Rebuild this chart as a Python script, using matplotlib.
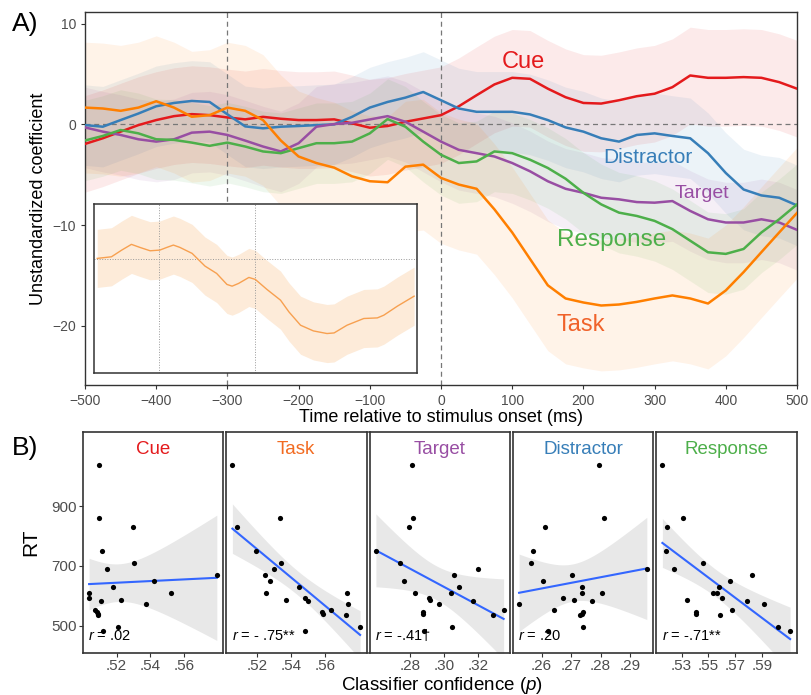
import numpy as np
import matplotlib

matplotlib.use("Agg")
import matplotlib.pyplot as plt

plt.rcParams['font.family'] = ['Liberation Sans', 'DejaVu Sans']
plt.rcParams['mathtext.fontset'] = 'custom'
plt.rcParams['mathtext.rm'] = 'Liberation Sans'
plt.rcParams['mathtext.it'] = 'Liberation Sans:italic'

# ---- panel A: decoding coefficients over time ----
time_ms = list(range(-500, 501, 25))
cue = [-1.94, -1.38, -0.72, -0.07, 0.43, 0.82, 1.02, 0.92, 0.69, 0.5, 0.75, 0.56, 0.43, 0.43, 0.5, 0.1, -0.33,
       -0.16, 0.26, 0.59, 0.92, 1.8, 2.9, 3.97, 4.63, 4.53, 3.55, 2.7, 2.13, 2.07, 2.4, 2.8, 3.05, 3.7, 4.86,
       4.63, 4.63, 4.7, 4.63, 4.2, 3.55]
distractor = [-0.07, -0.23, 0.43, 1.08, 1.8, 2.13, 2.33, 2.23, 1.0, -0.2, -0.39, -0.23, -0.16, -0.07, 0.0, 0.75,
              1.67, 2.23, 2.66, 3.22, 2.4, 1.58, 1.25, 1.25, 1.25, 0.99, 0.43, -0.3, -0.72, -1.38, -1.71, -1.05,
              -0.89, -1.15, -1.38, -2.86, -4.83, -6.47, -7.06, -7.29, -8.05]
target = [-0.3, -0.72, -1.05, -1.48, -1.71, -1.48, -0.82, -0.72, -1.05, -1.61, -2.2, -2.69, -1.87, -0.23, 0.03,
          0.16, 0.49, 0.82, 0.26, -0.72, -1.71, -2.53, -2.86, -3.19, -3.84, -4.66, -5.65, -6.4, -6.8, -7.29,
          -7.45, -7.72, -7.78, -7.62, -8.6, -9.43, -9.75, -9.75, -9.43, -9.75, -10.48]
response = [-1.6, -1.15, -0.56, -0.89, -1.48, -1.54, -1.81, -2.13, -1.81, -2.2, -2.69, -2.86, -2.36, -1.87, -1.87,
            -1.71, -0.89, 0.53, -0.23, -1.71, -3.02, -3.84, -3.68, -2.69, -2.86, -3.51, -4.33, -5.4, -6.8, -7.95,
            -8.77, -9.1, -9.59, -10.41, -11.56, -12.71, -12.87, -12.38, -10.74, -9.43, -7.95]
task = [1.67, 1.58, 1.35, 1.67, 2.3, 1.67, 0.76, 0.92, 1.67, 1.35, 0.43, -1.6, -3.19, -3.84, -4.3, -5.16, -5.65,
        -5.75, -4.2, -4.0, -5.32, -5.98, -6.4, -8.44, -10.74, -13.37, -15.99, -17.3, -17.7, -18.0, -17.9, -17.64,
        -17.3, -17.0, -17.3, -17.8, -16.5, -14.68, -12.7, -10.74, -8.8]

# half width of the confidence ribbon for each series
cue_ci = 4.8
distractor_ci = 4.0
target_ci = 4.0
response_ci = 4.0
task_ci = 6.5

# inset: zoomed task curve
inset_ms = [-495, -473, -457, -442, -429, -413, -398, -387, -377, -367, -348, -328, -310, -294, -286, -276,
            -260, -250, -232, -211, -198, -180, -160, -139, -128, -108, -82, -61, -51, -30, -4]
inset_task = [0.07, 0.23, 0.9, 1.47, 1.17, 0.83, 0.9, 1.17, 1.4, 1.17, 0.57, -0.7, -1.43, -2.53, -2.7, -2.43,
              -1.83, -2.03, -3.03, -4.1, -5.27, -6.6, -7.17, -7.43, -7.37, -6.6, -5.93, -5.87, -5.6, -4.7, -3.7]
inset_ci = 2.9

# ---- panel B: RT against classifier confidence ----
rt = [1038, 859, 831, 750, 709, 689, 669, 650, 630, 610, 608, 592, 586, 584, 573, 552, 547, 541, 536, 495, 481]
cue_conf = [.5097, .5095, .5295, .5117, .5302, .5144, .5792, .5422, .5178, .5521, .5038, .5038, .5224, .5111,
            .5373, .5072, .5082, .5088, .5091, .5209, .5119]
task_conf = [.5056, .5337, .5082, .5196, .5341, .5302, .5249, .5278, .5445, .5729, .5251, .5484, .5371, .5498,
             .5735, .5631, .5582, .5585, .5719, .5804, .5484]
target_conf = [.2810, .2819, .2794, .2598, .2737, .3198, .3057, .2761, .3084, .3039, .2829, .2908, .2914, .3167,
               .2972, .3349, .2875, .2873, .3284, .3045, .2878]
distractor_conf = [.2796, .2812, .2611, .2571, .2563, .2957, .2704, .2605, .2736, .2806, .2738, .2673, .2711,
                   .2772, .2524, .2641, .2739, .2736, .2730, .2739, .2623]
response_conf = [.5157, .5312, .5192, .5187, .5462, .5247, .5825, .5662, .5582, .5562, .5537, .5600, .5342,
                 .5792, .5917, .5675, .5407, .5405, .5587, .6020, .6112]

cue_ticks = [.52, .54, .56]
task_ticks = [.52, .54, .56]
target_ticks = [.28, .30, .32]
distractor_ticks = [.26, .27, .28, .29]
response_ticks = [.53, .55, .57, .59]

r_labels = ["$r$ = .02", "$r$ = - .75**", "$r$ = -.41\u2020", "$r$ = .20", "$r$ = -.71**"]

RED, BLUE, PURPLE, GREEN, ORANGE = "#e41a1c", "#377eb8", "#984ea3", "#4daf4a", "#ff7f00"
EDGE = "#333333"
TICKTXT = "#4d4d4d"


def style_box(ax, lw=1.0):
    for sp in ax.spines.values():
        sp.set_color(EDGE)
        sp.set_linewidth(lw)


def fit_band(x, y, grid):
    n = len(x)
    slope, icpt = np.polyfit(x, y, 1)
    pred = icpt + slope * grid
    resid = y - (icpt + slope * x)
    s = np.sqrt(np.sum(resid ** 2) / (n - 2))
    sxx = np.sum((x - x.mean()) ** 2)
    se = s * np.sqrt(1 / n + (grid - x.mean()) ** 2 / sxx)
    tcrit = 2.093
    return pred, pred - tcrit * se, pred + tcrit * se


fig = plt.figure(figsize=(8.11, 6.95), dpi=100)

# ---------------- panel A ----------------
ax = fig.add_axes([85 / 811, 1 - 385 / 695, 712 / 811, 373.3 / 695])
t = np.array(time_ms)
series = [(cue, cue_ci, RED), (distractor, distractor_ci, BLUE), (target, target_ci, PURPLE),
          (response, response_ci, GREEN), (task, task_ci, ORANGE)]
for vals, ci, col in series:
    v = np.array(vals)
    ax.fill_between(t, v - ci, v + ci, color=col, alpha=0.09, lw=0)
ax.axhline(0, color="#777777", lw=0.9, ls=(0, (4, 3)), zorder=2)
for xv in (-300, 0):
    ax.axvline(xv, color="#777777", lw=0.9, ls=(0, (4, 3)), zorder=2)
for vals, ci, col in series:
    ax.plot(t, vals, color=col, lw=1.8, zorder=3)

ax.text(115, 6.2, "Cue", color=RED, fontsize=17, ha="center", va="center")
ax.text(291, -3.25, "Distractor", color=BLUE, fontsize=15, ha="center", va="center")
ax.text(367, -6.87, "Target", color=PURPLE, fontsize=14, ha="center", va="center")
ax.text(240, -11.5, "Response", color=GREEN, fontsize=17.5, ha="center", va="center")
ax.text(196, -19.9, "Task", color="#f0622a", fontsize=17, ha="center", va="center")

ax.set_xlim(-500, 500)
ax.set_ylim(-25.9, 11.2)
ax.set_xticks(range(-500, 501, 100))
ax.set_yticks([10, 0, -10, -20])
ax.tick_params(length=3, color=EDGE, labelcolor=TICKTXT, labelsize=10)
ax.set_xlabel("Time relative to stimulus onset (ms)", fontsize=13, labelpad=1)
ax.set_ylabel("Unstandardized coefficient", fontsize=13, labelpad=4)
style_box(ax)

# inset
axi = fig.add_axes([94 / 811, 1 - 373.3 / 695, 322.7 / 811, 169.3 / 695])
axi.set_facecolor("white")
im = np.array(inset_ms)
iv = np.array(inset_task)
axi.fill_between(im, iv - inset_ci, iv + inset_ci, color="#fdebd9", lw=0)
axi.axhline(0, color="#999999", lw=0.7, ls=":")
for xv in (-400, -250):
    axi.axvline(xv, color="#999999", lw=0.7, ls=":")
axi.plot(im, iv, color="#f7a050", lw=1.0)
axi.set_xlim(-500, 0)
axi.set_ylim(-11.4, 5.5)
axi.set_xticks([])
axi.set_yticks([])
style_box(axi, 1.1)

fig.text(25 / 811, 1 - 24 / 695, "A)", fontsize=19, ha="center", va="center")

# ---------------- panel B ----------------
panels = [("Cue", cue_conf, cue_ticks, RED), ("Task", task_conf, task_ticks, "#f26b21"),
          ("Target", target_conf, target_ticks, PURPLE), ("Distractor", distractor_conf, distractor_ticks, BLUE),
          ("Response", response_conf, response_ticks, GREEN)]
lefts = [82.7, 226, 369.5, 512.7, 656]
bottom_px, top_px = 653, 432
y_rt = np.array(rt, dtype=float)
for i, (name, conf, ticks, col) in enumerate(panels):
    w = 140.5
    axb = fig.add_axes([lefts[i] / 811, 1 - bottom_px / 695, w / 811, (bottom_px - top_px) / 695])
    x = np.array(conf)
    span = x.max() - x.min()
    grid = np.linspace(x.min(), x.max(), 100)
    pred, lo, hi = fit_band(x, y_rt, grid)
    axb.fill_between(grid, lo, hi, color="#d9d9d9", alpha=0.6, lw=0)
    axb.plot(grid, pred, color="#3366ff", lw=1.5)
    axb.scatter(x, y_rt, s=14, color="black", zorder=3, linewidths=0)
    axb.set_xlim(x.min() - 0.05 * span, x.max() + 0.05 * span)
    axb.set_ylim(409, 409 + (bottom_px - top_px) / 0.299)
    axb.set_xticks(ticks)
    axb.set_xticklabels([("%.2f" % v).lstrip("0") for v in ticks])
    axb.set_yticks([500, 700, 900])
    axb.tick_params(length=3, pad=1.5, color=EDGE, labelcolor=TICKTXT, labelsize=11)
    if i > 0:
        axb.tick_params(left=False, labelleft=False)
    else:
        axb.set_ylabel("RT", fontsize=15, labelpad=8)
    axb.text(0.5, 0.92, name, transform=axb.transAxes, color=col, fontsize=13.5, ha="center", va="center")
    axb.text(0.04, 0.045, r_labels[i], transform=axb.transAxes, fontsize=10.5, ha="left", va="bottom")
    style_box(axb, 1.2)

fig.text(442 / 811, 1 - 686 / 695, "Classifier confidence ($p$)", fontsize=13.5, ha="center", va="center")
fig.text(25 / 811, 1 - 448 / 695, "B)", fontsize=19, ha="center", va="center")

plt.savefig("out.png", dpi=100)
